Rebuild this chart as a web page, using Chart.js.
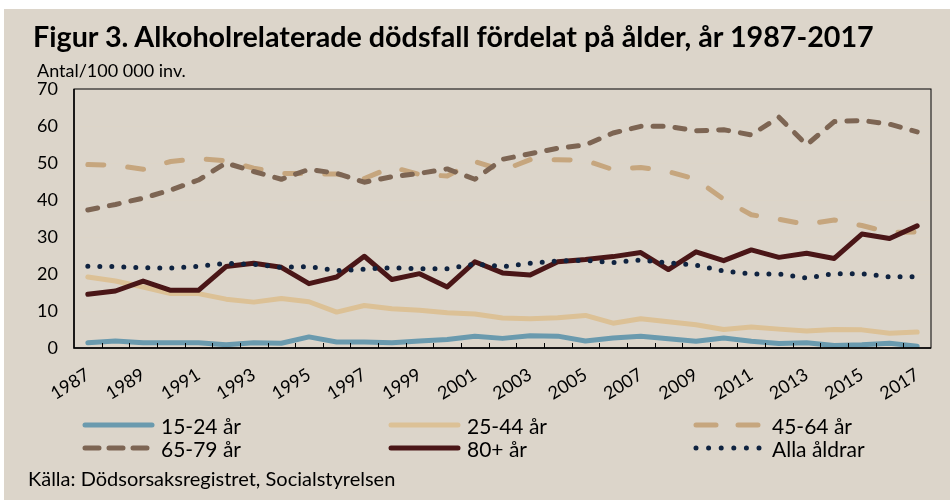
<!DOCTYPE html>
<html lang="sv">
<head>
<meta charset="utf-8">
<script src="https://cdn.jsdelivr.net/npm/chart.js@4"></script>
<style>
  html, body { margin: 0; padding: 0; background: #fff; }
  #ram { position: absolute; left: 4px; top: 9px; width: 946px; height: 491px; background: #dcd5ca; }
  #diagram { position: absolute; left: 0; top: 0; }
  .txt { position: absolute; font-family: Lato, "DejaVu Sans", sans-serif; color: #000; white-space: nowrap; }
  #titel { left: 33px; top: 19px; font-size: 28.7px; font-weight: 700; }
  #enhet { left: 37px; top: 59px; font-size: 18px; }
  #kalla { left: 28px; top: 466px; font-size: 20px; }
  .post { position: absolute; height: 22px; display: flex; align-items: center; font-family: Lato, "DejaVu Sans", sans-serif; font-size: 21px; }
  .post svg { margin-right: 3px; }
</style>
</head>
<body>
<div id="ram"></div>
<canvas id="diagram" width="950" height="500"></canvas>
<div class="txt" id="titel">Figur 3. Alkoholrelaterade dödsfall fördelat på ålder, år 1987-2017</div>
<div class="txt" id="enhet">Antal/100 000 inv.</div>
<div id="legend"></div>
<div class="txt" id="kalla">Källa: Dödsorsaksregistret, Socialstyrelsen</div>
<script>
const ar = ['1987', '1988', '1989', '1990', '1991', '1992', '1993', '1994', '1995', '1996',
  '1997', '1998', '1999', '2000', '2001', '2002', '2003', '2004', '2005', '2006',
  '2007', '2008', '2009', '2010', '2011', '2012', '2013', '2014', '2015', '2016', '2017'];

const alder15_24 = [1.4, 1.9, 1.4, 1.4, 1.4, 0.9, 1.4, 1.3, 3.0, 1.6, 1.6, 1.4, 1.9, 2.3, 3.2,
  2.6, 3.3, 3.2, 1.9, 2.7, 3.2, 2.5, 1.8, 2.7, 1.8, 1.2, 1.4, 0.7, 0.9, 1.3, 0.5];
const alder25_44 = [19.2, 18.1, 16.5, 14.7, 14.7, 13.2, 12.4, 13.4, 12.5, 9.7, 11.5, 10.6, 10.2, 9.5, 9.2,
  8.1, 7.9, 8.2, 8.8, 6.7, 7.9, 7.1, 6.3, 5.0, 5.7, 5.1, 4.6, 5.0, 4.9, 4.0, 4.3];
const alder45_64 = [49.6, 49.4, 48.3, 50.4, 51.2, 50.6, 48.6, 47.2, 47.1, 47.0, 45.8, 48.9, 46.9, 46.5, 50.4,
  48.0, 50.9, 50.9, 50.7, 48.2, 48.8, 47.7, 45.6, 40.2, 36.0, 34.8, 33.4, 34.6, 33.1, 31.2, 31.4];
const alder65_79 = [37.3, 38.8, 40.5, 42.7, 45.4, 50.0, 47.7, 45.6, 48.3, 47.2, 44.8, 46.3, 47.2, 48.4, 45.6,
  51.0, 52.5, 54.0, 54.9, 58.1, 59.9, 59.9, 58.7, 59.0, 57.6, 62.4, 54.9, 61.2, 61.5, 60.5, 58.4];
const alder80 = [14.5, 15.4, 18.1, 15.6, 15.6, 22.0, 22.9, 21.8, 17.4, 19.2, 24.8, 18.5, 20.1, 16.5, 23.3,
  20.3, 19.7, 23.3, 23.9, 24.7, 25.8, 21.2, 26.0, 23.6, 26.5, 24.5, 25.6, 24.2, 30.8, 29.6, 33.0];
const allaAldrar = [22.1, 22.0, 21.7, 21.6, 22.1, 22.9, 22.6, 21.8, 22.0, 20.9, 21.3, 21.7, 21.4, 21.4, 22.7,
  22.0, 22.9, 23.5, 23.7, 23.1, 23.8, 23.0, 22.4, 20.8, 20.0, 20.0, 18.9, 20.1, 20.1, 19.2, 19.3];

const yTicks = [0, 10, 20, 30, 40, 50, 60, 70];

const serier = [
  { label: '15-24 år', data: alder15_24, color: '#6a9aae', dash: [] },
  { label: '25-44 år', data: alder25_44, color: '#dcc196', dash: [] },
  { label: '45-64 år', data: alder45_64, color: '#c6a67e', dash: [16, 24] },
  { label: '65-79 år', data: alder65_79, color: '#7d6553', dash: [10, 12] },
  { label: '80+ år', data: alder80, color: '#4a1617', dash: [] },
  { label: 'Alla åldrar', data: allaAldrar, color: '#0f2340', dash: [0, 12] }
];

const font = { family: 'Lato, "DejaVu Sans", sans-serif', size: 18 };

// ram runt ritytan + små streck inåt på x-axeln
const ramPlugin = {
  id: 'ram',
  afterDatasetsDraw(chart) {
    const { ctx, chartArea: a, scales: { x } } = chart;
    ctx.save();
    ctx.strokeStyle = '#000';
    ctx.lineWidth = 1;
    ctx.strokeRect(a.left, a.top, a.right - a.left, a.bottom - a.top);
    ctx.lineWidth = 1.5;
    ctx.beginPath();
    ctx.moveTo(a.left, a.top);
    ctx.lineTo(a.left, a.bottom);
    ctx.lineTo(a.right, a.bottom);
    ctx.stroke();
    ctx.lineWidth = 1;
    for (let i = 1; i < ar.length; i++) {
      const px = Math.round((x.getPixelForValue(i - 1) + x.getPixelForValue(i)) / 2) + 0.5;
      ctx.beginPath();
      ctx.moveTo(px, a.bottom);
      ctx.lineTo(px, a.bottom - 5);
      ctx.stroke();
    }
    ctx.restore();
  }
};

new Chart(document.getElementById('diagram'), {
  type: 'line',
  data: {
    labels: ar,
    datasets: serier.map((s, i) => ({
      label: s.label,
      data: s.data,
      borderColor: s.color,
      backgroundColor: s.color,
      borderWidth: 5,
      borderDash: s.dash,
      borderCapStyle: 'round',
      borderJoinStyle: 'round',
      pointRadius: 0,
      tension: 0,
      order: serier.length - i
    }))
  },
  options: {
    responsive: false,
    animation: false,
    layout: { padding: { left: 0, top: 89, right: 19, bottom: 92 } },
    plugins: { legend: { display: false }, tooltip: { enabled: false } },
    scales: {
      x: {
        type: 'category',
        offset: true,
        afterFit: (s) => { s.height = 60; },
        grid: { display: false },
        border: { display: false },
        ticks: {
          autoSkip: false,
          minRotation: 32,
          maxRotation: 32,
          padding: 8,
          color: '#000',
          font: font,
          callback: (v, i) => (i % 2 === 0 ? ar[i] : '')
        }
      },
      y: {
        min: 0,
        max: 70,
        afterFit: (s) => { s.width = 74; },
        afterBuildTicks: (s) => { s.ticks = yTicks.map(v => ({ value: v })); },
        border: { display: false },
        grid: {
          drawTicks: false,
          lineWidth: 1,
          color: (c) => (c.tick && (c.tick.value === 0 || c.tick.value === 70) ? 'rgba(0,0,0,0)' : '#ddd5c8')
        },
        ticks: { padding: 16, color: '#000', font: font }
      }
    }
  },
  plugins: [ramPlugin]
});

// teckenförklaring i tre kolumner
const legendPos = [
  { x: 82, y: 414 }, { x: 388, y: 414 }, { x: 693, y: 414 },
  { x: 82, y: 437 }, { x: 388, y: 437 }, { x: 693, y: 437 }
];
const legendOrdning = [0, 1, 2, 3, 4, 5];
const legend = document.getElementById('legend');
legendOrdning.forEach((idx, k) => {
  const s = serier[idx];
  const p = legendPos[k];
  const div = document.createElement('div');
  div.className = 'post';
  div.style.left = p.x + 'px';
  div.style.top = p.y + 'px';
  let dash = '';
  if (idx === 2) dash = 'stroke-dasharray="20 22"';
  if (idx === 3) dash = 'stroke-dasharray="14 10"';
  if (idx === 5) dash = 'stroke-dasharray="0 12.6"';
  div.innerHTML = `<svg width="76" height="10"><line x1="3" y1="5" x2="${idx === 5 ? 67 : 70}" y2="5" stroke="${s.color}" stroke-width="5" stroke-linecap="round" ${dash}/></svg><span>${s.label}</span>`;
  legend.appendChild(div);
});
</script>
</body>
</html>
